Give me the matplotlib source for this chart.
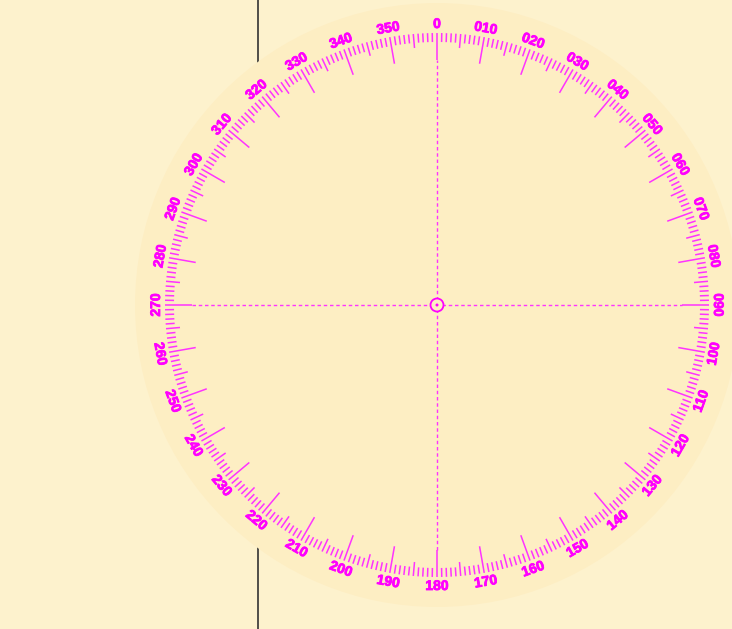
import matplotlib
matplotlib.use("Agg")
import matplotlib.pyplot as plt
import matplotlib.patheffects as pe
import numpy as np
from matplotlib.patches import Circle

# compass card data
label_degrees = list(range(0, 360, 10))
label_texts = ["0"] + ["%03d" % d for d in label_degrees[1:]]
tick_degrees = list(range(0, 360))

# layout (pixels, centre of the card at origin)
W, H = 732, 629
cx, cy = 437, 305
disc_r = 302
tick_r = 272
minor_len, mid_len, major_len = 9, 14, 27
label_r = 281
magenta = "#ff00ff"
tick_col = "#ff33ff"
bg = "#fdf2cd"
disc_col = "#fdeec3"

fig = plt.figure(figsize=(W / 100, H / 100), dpi=100, facecolor=bg)
ax = fig.add_axes([0, 0, 1, 1])
ax.set_xlim(-cx, W - cx)
ax.set_ylim(-(H - cy), cy)
ax.set_facecolor(bg)
ax.axis("off")

# line behind the card
ax.plot([258 - cx, 258 - cx], [-(H - cy), cy], color="#333333", lw=1.2, zorder=0)

ax.add_patch(Circle((0, 0), disc_r, facecolor=disc_col, edgecolor="none", zorder=1))

# ticks
for d in tick_degrees:
    if d % 10 == 0:
        ln = major_len
    elif d % 5 == 0:
        ln = mid_len
    else:
        ln = minor_len
    a = np.radians(d)
    r0, r1 = tick_r, tick_r - ln
    ax.plot([r0 * np.sin(a), r1 * np.sin(a)], [r0 * np.cos(a), r1 * np.cos(a)],
            color=tick_col, lw=1.1, solid_capstyle="butt", zorder=3)

# labels
for d, t in zip(label_degrees, label_texts):
    a = np.radians(d)
    if 90 < d < 270:
        rot = 180 - d
    else:
        rot = -d
    ax.text(label_r * np.sin(a), label_r * np.cos(a), t, rotation=rot,
            rotation_mode="anchor", ha="center", va="center", color=magenta,
            fontsize=10, fontweight="bold", family="Liberation Sans", zorder=4,
            path_effects=[pe.withStroke(linewidth=0.6, foreground=magenta)])

# crosshair
inner = tick_r - major_len
ax.plot([-inner, inner], [0, 0], color=tick_col, lw=1.0, ls=(0, (2.5, 2)), zorder=2)
ax.plot([0, 0], [-inner, inner], color=tick_col, lw=1.0, ls=(0, (2.5, 2)), zorder=2)

ax.add_patch(Circle((0, 0), 6.5, facecolor=disc_col, edgecolor=magenta, lw=1.3, zorder=5))
ax.add_patch(Circle((0, 0), 1.5, facecolor=magenta, edgecolor="none", zorder=6))

fig.savefig("out.png", dpi=100, facecolor=bg)
